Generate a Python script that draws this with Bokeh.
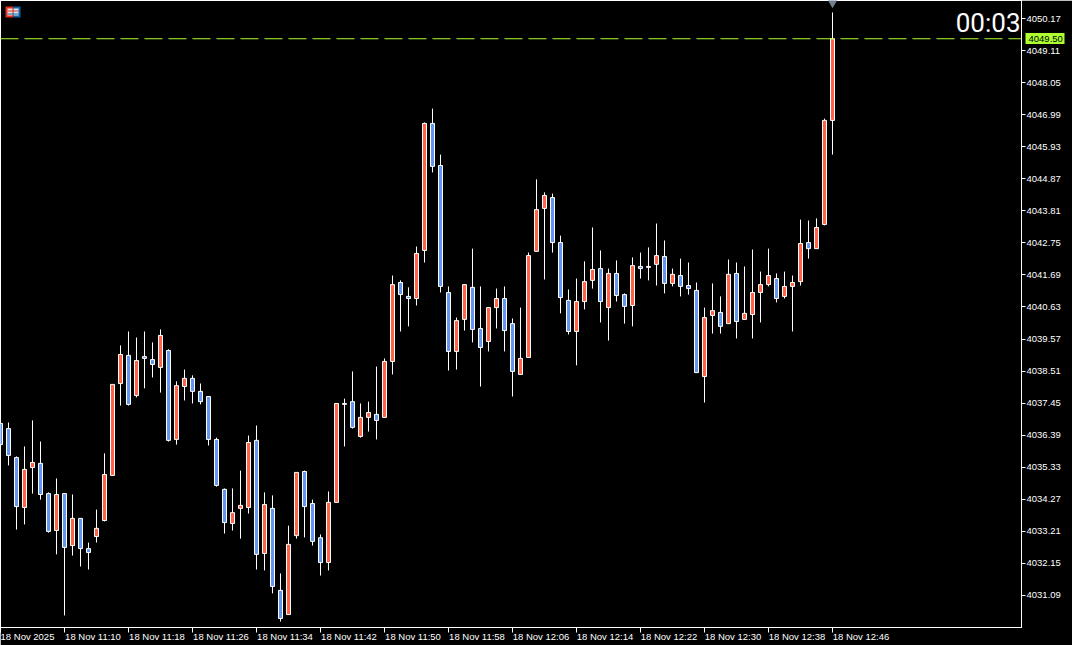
from bokeh.embed import file_html
from bokeh.models import (BoxAnnotation, ColumnDataSource, FixedTicker, Label, LinearAxis, Span)
from bokeh.plotting import figure
from bokeh.resources import INLINE

BLACK = "#000000"
WHITE = "#ffffff"
UP = "#ff6347"
DOWN = "#6495ed"
LAST = "#adff2f"

opens = [4036.78,4036.61,4035.65,4034.00,4035.32,4035.46,4034.46,4033.24,4034.46,4032.74,
 4033.64,4032.64,4033.04,4033.57,4035.06,4038.10,4039.03,4037.70,4038.99,4038.89,
 4038.63,4039.19,4036.25,4038.00,4038.27,4037.84,4037.67,4036.25,4034.60,4033.47,
 4033.97,4034.00,4036.22,4032.48,4033.97,4031.26,4030.46,4033.07,4035.19,4034.13,
 4033.00,4032.18,4034.17,4037.41,4037.50,4036.35,4036.98,4037.08,4036.98,4038.83,
 4041.44,4040.98,4040.91,4042.50,4046.70,4045.31,4041.11,4039.16,4040.22,4041.28,
 4039.92,4039.49,4040.61,4040.91,4040.08,4038.40,4038.96,4042.47,4043.89,4044.25,
 4042.76,4040.85,4039.82,4040.81,4041.51,4041.90,4040.61,4041.74,4041.04,4040.68,
 4041.97,4041.94,4042.04,4042.30,4041.41,4041.67,4041.34,4041.18,4038.33,4040.35,
 4040.45,4040.08,4041.74,4040.22,4040.38,4041.11,4041.37,4041.57,4040.98,4041.31,
 4041.47,4042.76,4042.56,4043.36,4046.80]
highs = [4036.78,4036.81,4035.69,4036.02,4036.88,4036.18,4034.50,4034.96,4034.46,4034.43,
 4033.64,4032.84,4033.93,4035.79,4038.07,4039.36,4039.82,4039.62,4039.82,4039.46,
 4039.89,4039.23,4038.17,4038.56,4038.37,4038.10,4037.67,4036.31,4034.63,4034.63,
 4035.22,4036.38,4036.71,4034.50,4034.40,4031.82,4033.40,4035.16,4035.22,4034.26,
 4033.11,4034.53,4037.44,4037.60,4038.50,4037.44,4037.50,4038.66,4038.93,4041.67,
 4041.51,4041.28,4042.63,4046.73,4047.19,4045.67,4041.31,4040.28,4041.37,4042.56,
 4041.31,4040.61,4041.24,4041.31,4040.25,4040.61,4042.43,4044.85,4044.42,4044.38,
 4042.99,4041.21,4041.57,4042.14,4043.26,4042.50,4041.90,4042.17,4041.08,4042.27,
 4042.43,4042.60,4043.39,4042.83,4041.90,4042.23,4042.10,4041.44,4040.61,4041.41,
 4040.98,4042.20,4042.10,4041.97,4042.53,4041.80,4042.56,4041.74,4041.80,4041.67,
 4043.52,4043.49,4043.56,4046.86,4050.37]
lows = [4036.08,4035.39,4033.27,4033.44,4034.46,4034.26,4033.17,4032.45,4030.43,4032.41,
 4032.05,4031.95,4032.84,4033.54,4035.06,4037.37,4037.37,4037.64,4037.94,4038.30,
 4037.80,4036.18,4036.08,4037.54,4037.44,4037.41,4036.05,4034.69,4033.14,4033.24,
 4032.97,4033.80,4031.95,4031.92,4031.16,4030.23,4030.46,4032.97,4033.01,4032.74,
 4031.75,4031.92,4034.17,4036.02,4036.61,4036.31,4036.51,4036.25,4036.98,4038.40,
 4039.82,4039.99,4040.68,4042.10,4045.08,4041.11,4038.53,4038.56,4039.85,4039.46,
 4038.00,4039.16,4039.92,4039.16,4037.67,4038.40,4038.96,4042.47,4041.54,4042.43,
 4040.42,4039.72,4038.70,4040.55,4041.24,4040.12,4039.52,4040.81,4040.08,4039.99,
 4041.57,4041.51,4041.34,4041.08,4041.31,4040.98,4041.04,4038.46,4037.47,4039.75,
 4039.75,4040.08,4039.59,4040.22,4039.59,4040.12,4041.31,4040.78,4040.91,4039.82,
 4041.34,4042.23,4042.56,4043.33,4045.67]
closes = [4036.08,4035.72,4034.03,4035.26,4035.49,4034.43,4033.21,4034.43,4032.68,4033.64,
 4032.64,4032.51,4033.31,4035.09,4038.07,4039.06,4037.41,4038.86,4038.93,4038.73,
 4039.69,4036.22,4038.03,4038.27,4037.84,4037.50,4036.25,4034.73,4033.50,4033.83,
 4034.07,4036.15,4032.45,4034.10,4031.39,4030.33,4032.78,4035.16,4034.03,4032.88,
 4032.18,4034.17,4037.44,4037.44,4036.65,4036.98,4037.14,4036.88,4038.83,4041.37,
 4041.04,4040.91,4042.40,4046.70,4045.28,4041.31,4039.16,4040.18,4041.37,4039.89,
 4039.29,4040.61,4040.91,4039.85,4038.50,4038.93,4042.33,4043.85,4044.32,4042.76,
 4040.94,4039.82,4040.81,4041.47,4041.87,4040.81,4041.74,4041.01,4040.65,4042.00,
 4041.90,4041.97,4042.33,4041.41,4041.71,4041.31,4041.24,4038.46,4040.28,4040.51,
 4039.99,4041.71,4040.15,4040.42,4041.11,4041.37,4041.67,4040.91,4041.31,4041.44,
 4042.73,4042.56,4043.26,4046.80,4049.50]

price_ticks = [4031.09,4032.15,4033.21,4034.27,4035.33,4036.39,4037.45,4038.51,4039.57,4040.63,
 4041.69,4042.75,4043.81,4044.87,4045.93,4046.99,4048.05,4049.11,4050.17]
time_ticks = [0,8,16,24,32,40,48,56,64,72,80,88,96,104]
time_labels = ["18 Nov 2025","18 Nov 11:10","18 Nov 11:18","18 Nov 11:26","18 Nov 11:34",
 "18 Nov 11:42","18 Nov 11:50","18 Nov 11:58","18 Nov 12:06","18 Nov 12:14",
 "18 Nov 12:22","18 Nov 12:30","18 Nov 12:38","18 Nov 12:46"]
last_price = 4049.50
last_label = "4049.50"
countdown = "00:03"

FONT = "Liberation Sans"
FS = "9.5px"
W, H = 1072, 645
PX = 30.241
F_L, F_T, F_R, F_B = 0, 0, 1021, 627
y_at = lambda py: 4050.17 - (py - 18) / PX
x_at = lambda px: px / 8
sy = lambda py: F_B - py

p = figure(width=W, height=H, output_backend="svg", toolbar_location=None,
           x_range=(x_at(F_L), x_at(F_R)), y_range=(y_at(F_B), y_at(F_T)),
           frame_width=F_R - F_L, frame_height=F_B - F_T,
           y_axis_location="right", background_fill_color=BLACK, border_fill_color=BLACK,
           min_border_left=0, min_border_top=0, min_border_right=W - F_R,
           min_border_bottom=H - F_B, outline_line_color=WHITE, outline_line_width=1)
p.grid.visible = False

xs = list(range(len(opens)))
src = ColumnDataSource(dict(
    x=xs, o=opens, h=highs, l=lows, c=closes,
    left=[i - 0.25 for i in xs], right=[i + 0.25 for i in xs],
    top=[max(a, b) for a, b in zip(opens, closes)],
    bottom=[min(a, b) for a, b in zip(opens, closes)],
    color=[UP if c >= o else DOWN for o, c in zip(opens, closes)]))
p.segment("x", "h", "x", "l", source=src, line_color=WHITE, line_width=1)
p.quad(left="left", right="right", top="top", bottom="bottom", source=src,
       fill_color="color", line_color=WHITE, line_width=1)

p.add_layout(Span(location=last_price, dimension="width", line_color=LAST, line_width=1,
                  line_dash="18 6"))

for ax in (p.xaxis[0], p.yaxis[0]):
    ax.axis_line_color = WHITE
    ax.major_tick_line_color = WHITE
    ax.minor_tick_line_color = None
    ax.major_tick_in = 0
    ax.major_label_text_color = WHITE
    ax.major_label_text_font = FONT
    ax.major_label_text_font_size = FS
p.yaxis[0].major_tick_out = 4
p.yaxis[0].major_label_standoff = 1
p.yaxis[0].ticker = FixedTicker(ticks=price_ticks)
p.yaxis[0].major_label_overrides = {t: f"{t:.2f}" for t in price_ticks}

# the time labels start right of their tick, so they sit on their own (tickless) major
# ticks, centred half a label further on; the visible tick marks are the minor ticks
label_pos = [t + (0.5 + (53 if k == 0 else 56) / 2) / 8 for k, t in enumerate(time_ticks)]
xax = p.xaxis[0]
xax.ticker = FixedTicker(ticks=label_pos, minor_ticks=time_ticks)
xax.major_label_overrides = dict(zip(label_pos, time_labels))
xax.major_tick_out = 0
xax.major_tick_line_color = None
xax.minor_tick_line_color = WHITE
xax.minor_tick_in = 0
xax.minor_tick_out = 5
xax.major_label_standoff = -2

# last price tag: a second right axis with one thick tick and its label
tag = LinearAxis(ticker=FixedTicker(ticks=[last_price]),
                 major_label_overrides={last_price: last_label},
                 axis_line_color=None, minor_tick_line_color=None,
                 major_tick_line_color=LAST, major_tick_line_width=11,
                 major_tick_in=38, major_tick_out=1, major_label_standoff=-36,
                 major_label_text_color=BLACK, major_label_text_font=FONT,
                 major_label_text_font_size=FS)
p.add_layout(tag, "right")


def box(l, t, r, b, color):
    p.add_layout(BoxAnnotation(left=l, right=r, top=sy(t), bottom=sy(b), left_units="screen",
                               right_units="screen", top_units="screen", bottom_units="screen",
                               fill_color=color, fill_alpha=1, line_color=None))


# countdown
p.add_layout(Label(x=1020, y=sy(22), x_units="screen", y_units="screen", text=countdown,
                   text_color=WHITE, text_font="Roboto", text_font_size="26px",
                   text_baseline="middle", text_align="right"))
# marker above the last bar
p.scatter(x=[104], y=[y_at(2)], size=10, marker="inverted_triangle", fill_color="#708090",
          line_color=None)
# table icon
box(5, 6, 13, 17, "#e03020")
box(13, 6, 20, 17, "#1060a0")
box(7, 8, 12, 15, "#f0e0d8")
box(13, 8, 18, 15, "#d8e8f4")
box(7, 10, 18, 11, "#e03020")
box(7, 13, 18, 14, "#1060a0")

open("out.html", "w").write(file_html(p, INLINE))
